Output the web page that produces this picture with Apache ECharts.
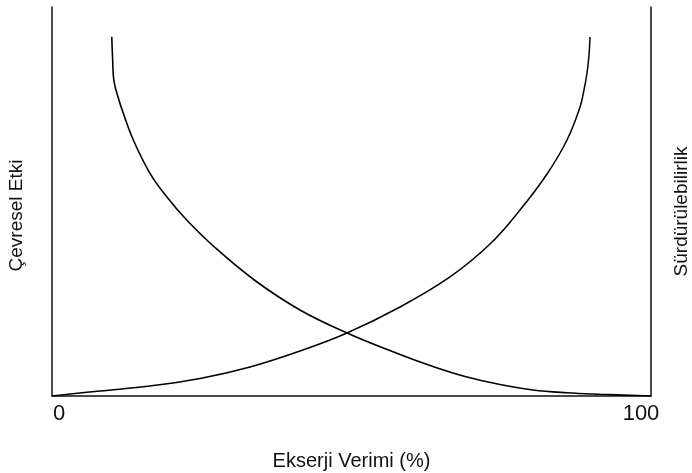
<!DOCTYPE html>
<html>
<head>
<meta charset="utf-8">
<script src="https://cdn.jsdelivr.net/npm/echarts@6/dist/echarts.min.js"></script>
<style>
html, body { margin: 0; padding: 0; background: #fff; }
#main { width: 692px; height: 473px; }
</style>
</head>
<body>
<div id="main"></div>
<script>
// Çevresel Etki (azalan egri)
var etkiX = [9.97, 10.12, 10.32, 11.02, 11.90, 13.57, 16.36, 19.15, 22.49, 27.21, 33.89, 41.40, 49.25, 58.10, 63.61, 69.28, 74.79, 80.30, 85.98, 91.49, 100];
var etkiY = [92.37, 86.76, 81.23, 76.86, 72.67, 65.81, 57.25, 51.23, 45.24, 38.17, 29.69, 22.11, 16.20, 10.67, 7.58, 4.88, 2.96, 1.54, 0.82, 0.44, 0];
// Sürdürülebilirlik (artan egri)
var surX = [0, 8.01, 16.36, 24.71, 33.06, 41.40, 49.25, 58.10, 66.44, 73.12, 78.13, 82.64, 85.98, 88.15, 88.81, 89.32, 89.65, 89.82];
var surY = [0, 1.29, 2.57, 4.50, 7.46, 11.57, 16.20, 22.88, 30.60, 39.07, 47.81, 57.07, 65.81, 74.29, 78.66, 83.03, 87.66, 92.29];
var xTicks = [0, 100];

function pairs(xs, ys) {
    var out = [];
    for (var i = 0; i < xs.length; i++) out.push([xs[i], ys[i]]);
    return out;
}

var chart = echarts.init(document.getElementById('main'));
var font = '"Liberation Sans", Arial, sans-serif';
var axisLine = { show: true, lineStyle: { color: '#111', width: 1.5 } };

var option = {
    animation: false,
    backgroundColor: '#fff',
    grid: { left: 52, right: 41, top: 7, bottom: 77, containLabel: false, outerBoundsMode: 'none' },
    xAxis: {
        type: 'value',
        min: xTicks[0],
        max: xTicks[1],
        interval: 100,
        axisLine: axisLine,
        axisTick: { show: false },
        splitLine: { show: false },
        axisLabel: {
            margin: 7,
            fontFamily: font,
            fontSize: 22,
            color: '#111',
            formatter: function (v) {
                return v === 0 ? '{a|0}' : '{b|100}';
            },
            rich: {
                a: { fontFamily: font, fontSize: 22, color: '#111', padding: [0, 0, 0, 14] },
                b: { fontFamily: font, fontSize: 22, color: '#111', padding: [0, 20, 0, 0] }
            }
        },
        name: 'Ekserji Verimi (%)',
        nameLocation: 'middle',
        nameGap: 55,
        nameTextStyle: { fontFamily: font, fontSize: 20, color: '#111' }
    },
    yAxis: [{
        type: 'value',
        min: 0,
        max: 100,
        position: 'left',
        axisLine: axisLine,
        axisTick: { show: false },
        splitLine: { show: false },
        axisLabel: { show: false },
        name: 'Çevresel Etki',
        nameLocation: 'middle',
        nameRotate: 90,
        nameGap: 26,
        nameTextStyle: { fontFamily: font, fontSize: 19, color: '#111', padding: [0, 28, 0, 0] }
    }, {
        type: 'value',
        min: 0,
        max: 100,
        position: 'right',
        axisLine: axisLine,
        axisTick: { show: false },
        splitLine: { show: false },
        axisLabel: { show: false },
        name: 'Sürdürülebilirlik',
        nameLocation: 'middle',
        nameRotate: 90,
        nameGap: 21,
        nameTextStyle: { fontFamily: font, fontSize: 19, color: '#111', padding: [0, 20, 0, 0] }
    }],
    series: [{
        type: 'line',
        yAxisIndex: 0,
        data: pairs(etkiX, etkiY),
        smooth: 0.4,
        showSymbol: false,
        lineStyle: { color: '#000', width: 1.6 }
    }, {
        type: 'line',
        yAxisIndex: 1,
        data: pairs(surX, surY),
        smooth: 0.4,
        showSymbol: false,
        lineStyle: { color: '#000', width: 1.5 }
    }]
};
chart.setOption(option);
</script>
</body>
</html>
